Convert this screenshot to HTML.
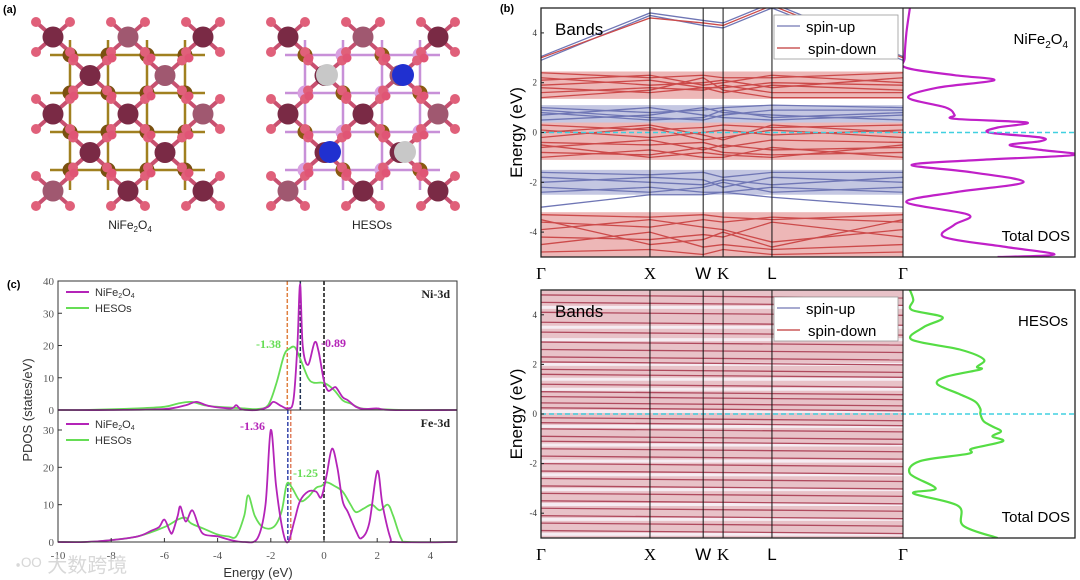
<!DOCTYPE html>
<html><head><meta charset="utf-8"><style>
html,body{margin:0;padding:0;background:#fff;}
svg{display:block;font-family:"Liberation Sans",sans-serif;}
</style></head><body>
<svg id="fig" width="1080" height="580" viewBox="0 0 1080 580" xmlns="http://www.w3.org/2000/svg">
<g id="pa"></g>
<g id="pb"></g>
<g id="pc"></g>
</svg>
<script>
// ---------- Data ----------
const kLabels = ["Γ","X","W","K","L","Γ"];
const kFrac = [0, 0.301, 0.448, 0.503, 0.638, 1];
const energyTicks = [4,2,0,-2,-4];
const nfSpinDown = [
 [2.4,2.2,2.3,2.2,2.2,2.4],[2.2,1.9,2.0,2.1,1.8,2.2],[1.9,2.1,1.8,1.8,2.0,1.9],[1.6,1.8,1.7,1.9,1.6,1.6],
 [1.4,1.7,2.2,1.7,1.4,1.4],[2.1,2.3,1.9,2.0,2.3,2.0],[1.8,1.6,1.8,1.6,1.9,1.7],
 [0.3,0.1,0.2,0.3,0.2,0.3],[0.1,-0.2,0.0,0.1,-0.1,0.1],[-0.2,0.2,-0.3,-0.2,0.1,-0.2],[-0.4,-0.5,-0.4,-0.6,-0.3,-0.4],
 [-0.6,-0.3,-0.7,-0.5,-0.7,-0.6],[-0.8,-0.9,-0.6,-0.8,-0.9,-0.8],[-1.0,-0.7,-1.0,-1.0,-0.6,-1.0],[0.0,0.3,-0.1,-0.3,0.3,0.0],[-0.5,-1.0,-0.8,-0.9,-1.0,-0.5],
 [-3.3,-3.4,-3.3,-3.4,-3.5,-3.3],[-3.6,-3.8,-3.5,-3.6,-3.4,-3.6],[-3.9,-3.5,-3.8,-3.9,-4.4,-3.9],[-4.2,-4.3,-4.1,-4.2,-3.6,-4.2],
 [-4.5,-4.0,-4.6,-4.5,-4.7,-4.5],[-4.8,-4.7,-4.9,-4.7,-4.9,-4.8],[-3.5,-4.5,-4.3,-4.0,-4.6,-3.5],
 [3.0,4.6,4.4,4.3,5.1,3.0]
];
const nfSpinUp = [
 [1.0,0.8,0.9,1.0,1.1,1.0],[0.9,0.6,0.5,0.7,0.9,0.9],[0.7,1.0,0.7,0.6,0.5,0.7],[0.5,0.7,1.0,0.8,0.7,0.5],[0.8,0.5,0.6,0.9,0.6,0.8],
 [-1.6,-1.7,-1.6,-1.8,-1.6,-1.6],[-1.8,-2.0,-2.1,-1.9,-2.1,-1.8],[-2.0,-1.8,-1.9,-2.2,-1.8,-2.0],[-2.2,-2.4,-2.2,-2.0,-2.4,-2.2],
 [-2.4,-2.2,-2.4,-2.4,-2.2,-2.4],[-3.0,-2.5,-2.5,-2.4,-2.6,-3.0],
 [2.9,4.7,4.3,4.2,5.0,2.9],[3.05,4.8,4.5,4.4,5.2,3.05]
];
const nfDownBands = [[1.35,2.45],[-1.1,0.4],[-5,-3.2]];
const nfUpBands = [[0.4,1.1],[-2.5,-1.5]];
const heLevelsDown = [4.8,4.5,4.1,3.7,3.3,2.9,2.6,2.3,2.1,1.8,1.6,1.2,0.9,0.7,0.45,0.25,-0.15,-0.35,-0.6,-0.9,-1.1,-1.4,-1.7,-2.0,-2.3,-2.6,-2.9,-3.2,-3.5,-3.8,-4.1,-4.4,-4.7];
const heLevelsUp = [4.3,3.5,3.0,2.0,1.4,1.0,0.1,-0.5,-1.25,-1.9,-2.45,-3.05,-3.65,-4.25,-4.85];
const nfDosE = [5,4,3,2.6,2.3,2.1,1.8,1.4,1.0,0.7,0.55,0.4,0.2,0,-0.2,-0.35,-0.5,-0.7,-0.9,-1.1,-1.3,-1.6,-2.0,-2.4,-2.8,-3.3,-3.7,-4.2,-4.6,-4.9,-5];
const nfDosV = [4,2,1,2,30,53,20,3,25,30,30,72,55,50,80,80,62,80,100,45,5,40,70,30,2,38,30,24,60,88,55];
const heDosE = [5,4.6,4.2,3.9,3.5,3.0,2.6,2.2,1.9,1.8,1.5,1.2,0.8,0.5,0.2,0,-0.3,-0.5,-0.7,-0.9,-1.1,-1.4,-1.6,-1.9,-2.4,-3.0,-3.2,-3.7,-4.5,-5];
const heDosV = [4,6,5,23,12,5,33,47,43,45,25,20,33,42,45,45,47,52,57,52,58,40,38,10,4,19,6,32,35,55];
const pdosE_NiNF = [-10,-8,-6,-5.2,-4.8,-4.3,-3.5,-3.3,-3.1,-2.5,-2.1,-1.9,-1.6,-1.35,-1.15,-1.0,-0.9,-0.8,-0.6,-0.35,-0.2,0,0.15,0.3,0.45,0.7,0.9,1.2,1.5,2,2.5,5];
const pdosV_NiNF = [0,0,0.3,1.5,2.5,1.2,0.5,1.5,0.2,0,1,2.5,1.2,0.5,3,20,39,20,14,21,18,9,6,6.5,7,4,3,1,0.3,0.5,0,0];
const pdosE_NiHE = [-10,-9,-7,-6,-5.5,-5,-4.5,-4,-3,-2.5,-2.1,-1.8,-1.5,-1.3,-1.1,-0.9,-0.6,-0.4,-0.1,0.1,0.4,0.7,1.0,1.4,2,3,5];
const pdosV_NiHE = [0,0,0.5,1,2,2.5,1.5,1,0.5,0.3,1.5,8,17,19,19.5,16,10,8.5,8.5,8,6,3,2,0.5,0.3,0,0];
const pdosE_FeNF = [-10,-9,-8,-7,-6.5,-6.2,-6.0,-5.8,-5.7,-5.5,-5.4,-5.2,-4.95,-4.7,-4.5,-4,-3.5,-3,-2.5,-2.2,-2.0,-1.8,-1.55,-1.35,-1.1,-0.9,-0.6,-0.3,-0.1,0.1,0.3,0.5,0.7,0.9,1.2,1.4,1.7,2.0,2.2,2.5,2.7,5];
const pdosV_FeNF = [0,0,0.5,1.5,3,4,6,3,2.5,7,9.5,5.5,8.5,4,2,1.5,0.5,0,1,10,30,15,3,0,6,11,13.5,13.5,12,18,25,20,11,8,3,1,5,19,10,1,0,0];
const pdosE_FeHE = [-10,-9,-8,-7,-6,-5.5,-5.2,-5,-4.5,-4,-3.6,-3.3,-3.0,-2.85,-2.6,-2.3,-1.9,-1.6,-1.4,-1.2,-0.9,-0.6,-0.3,-0.1,0.1,0.4,0.7,1.0,1.2,1.5,1.8,2.1,2.4,2.6,2.9,3.2,5];
const pdosV_FeHE = [0,0,0.5,1.5,4,6,6.5,5,3.5,2,1.5,1.5,7,12.5,7,4,4,8,15.5,14.5,11,12,14.5,15,16,15,13.5,10,8,9,10,8.5,10,7,1,0,0];
const pdosXTicks = [-10,-8,-6,-4,-2,0,2,4];
const pdosYTicksTop = [0,10,20,30,40];
const pdosYTicksBot = [0,10,20,30];
const niMarkers = [-1.38,-0.89,0];
const feMarkers = [-1.36,-1.25,0];

const NS="http://www.w3.org/2000/svg";
function mk(parent,tag,attrs,text){const e=document.createElementNS(NS,tag);for(const k in attrs)e.setAttribute(k,attrs[k]);if(text!==undefined)e.textContent=text;parent.appendChild(e);return e;}
function smooth(pts){
  let d="M"+pts[0][0].toFixed(1)+","+pts[0][1].toFixed(1);
  for(let i=0;i<pts.length-1;i++){const p0=pts[Math.max(0,i-1)],p1=pts[i],p2=pts[i+1],p3=pts[Math.min(pts.length-1,i+2)];
    const c1=[p1[0]+(p2[0]-p0[0])/6,p1[1]+(p2[1]-p0[1])/6],c2=[p2[0]-(p3[0]-p1[0])/6,p2[1]-(p3[1]-p1[1])/6];
    d+=`C${c1[0].toFixed(1)},${c1[1].toFixed(1)} ${c2[0].toFixed(1)},${c2[1].toFixed(1)} ${p2[0].toFixed(1)},${p2[1].toFixed(1)}`;}
  return d;}

// ---------- Panel a ----------
const pa=document.getElementById('pa');
let t=mk(pa,'text',{x:3,y:13,'font-size':11,'font-weight':'bold'},'(a)');


function structure(ox,he){
  const g=mk(pa,'g',{});
  
  
  const gx=[70,108,147,185].map(v=>v+ox), gy=[55,93,132,170];
  gx.forEach(x=>mk(g,'line',{x1:x,y1:40,x2:x,y2:190,stroke:he?'#c890d8':'#a08020','stroke-width':2.5}));
  gy.forEach(y=>mk(g,'line',{x1:50,y1:y,x2:205,y2:y,stroke:he?'#c890d8':'#a08020','stroke-width':2.5,transform:`translate(${ox},0)`}));
  const tet=[];
  for(let r=0;r<5;r++)for(let c=0;c<3;c++){
    if(r%2===0) tet.push([53+c*75+ox,37+r*38.5]); else if(c<2) tet.push([90+c*75+ox,37+r*38.5]);
  }
  tet.forEach(([x,y])=>{[[-17,-15],[17,-15],[-17,15],[17,15]].forEach(([dx,dy])=>{mk(g,'line',{x1:x,y1:y,x2:x+dx,y2:y+dy,stroke:'#c85070','stroke-width':4});});});
  gx.forEach((x,i)=>gy.forEach((y,j)=>{mk(g,'circle',{cx:x,cy:y,r:7.5,fill:he?((i+j)%2?'#d8a0e0':'#8a5a10'):'#7a5010'});}));
  tet.forEach(([x,y],i)=>{mk(g,'circle',{cx:x,cy:y,r:10.5,fill:(i%3===1)?'#a05870':'#7a2a45'});
    [[-17,-15],[17,-15],[-17,15],[17,15]].forEach(([dx,dy])=>mk(g,'circle',{cx:x+dx,cy:y+dy,r:5,fill:'#e0607a'}));});
  gx.forEach(x=>gy.forEach(y=>{mk(g,'circle',{cx:x+4,cy:y+3,r:4.5,fill:'#e05575'});}));
  if(he){[[327,75,'#c8c8c8'],[403,75,'#2030d0'],[330,152,'#2030d0'],[405,152,'#c8c8c8']].forEach(([x,y,c])=>mk(g,'circle',{cx:x,cy:y,r:11,fill:c}));}
}
structure(0,false);structure(235,true);
t=mk(pa,'text',{x:130,y:229,'font-size':12,'text-anchor':'middle',fill:'#222'});
t.innerHTML='NiFe<tspan font-size="8" dy="3">2</tspan><tspan dy="-3">O</tspan><tspan font-size="8" dy="3">4</tspan>';


t=mk(pa,'text',{x:372,y:229,'font-size':12,'text-anchor':'middle',fill:'#222'},'HESOs');



// ---------- Panel b ----------
const pb=document.getElementById('pb');
t=mk(pb,'text',{x:500,y:12,'font-size':11,'font-weight':'bold'},'(b)');


const bx0=541,bx1=903,dx1=1075;
const kx=f=>bx0+f*(bx1-bx0);
function bandPanel(top,y0,y1,isHE,idp){
  const ey=e=>y0+(5-e)/10*(y1-y0);
  const g=mk(pb,'g',{});
  
  
  const cp=mk(g,'clipPath',{id:'clip'+idp});mk(cp,'rect',{x:bx0,y:y0,width:bx1-bx0,height:y1-y0});
  const inner=mk(g,'g',{'clip-path':`url(#clip${idp})`});
  if(!isHE){
    nfDownBands.forEach(b=>mk(inner,'rect',{x:bx0,y:ey(b[1]),width:bx1-bx0,height:ey(b[0])-ey(b[1]),fill:'rgba(215,95,95,0.45)'}));
    nfUpBands.forEach(b=>mk(inner,'rect',{x:bx0,y:ey(b[1]),width:bx1-bx0,height:ey(b[0])-ey(b[1]),fill:'rgba(125,130,190,0.45)'}));
    const draw=(arr,col,nm)=>arr.forEach(b=>{const p=mk(inner,'polyline',{points:b.map((e,i)=>kx(kFrac[i])+','+ey(e)).join(' '),fill:'none',stroke:col,'stroke-width':1.3});
      
      });
    draw(nfSpinUp,'#6f76b5','spin-up-band');draw(nfSpinDown,'#cc4a4a','spin-down-band');
  } else {
    mk(inner,'rect',{x:bx0,y:y0,width:bx1-bx0,height:y1-y0,fill:'rgba(200,110,125,0.42)'});
    heLevelsUp.forEach(e=>{const l=mk(inner,'line',{x1:bx0,x2:bx1,y1:ey(e),y2:ey(e),stroke:'#f6ecf2','stroke-width':3});
      });
    heLevelsDown.forEach(e=>{const l=mk(inner,'line',{x1:bx0,x2:bx1,y1:ey(e),y2:ey(e)+3,stroke:'#b04a5e','stroke-width':1.3});
      });
  }
  const dE=isHE?heDosE:nfDosE,dV=isHE?heDosV:nfDosV;
  const cp2=mk(g,'clipPath',{id:'clipd'+idp});mk(cp2,'rect',{x:bx1,y:y0,width:dx1-bx1,height:y1-y0});
  const p=mk(g,'path',{d:smooth(dE.map((e,i)=>[bx1+dV[i]*1.72,ey(e)])),fill:'none',stroke:isHE?'#55dd44':'#c020c8','stroke-width':2.2,'clip-path':`url(#clipd${idp})`});
  
  
  mk(g,'line',{x1:bx0,x2:dx1,y1:ey(0),y2:ey(0),stroke:'#40d0e0','stroke-width':1.5,'stroke-dasharray':'5 3'});
  kFrac.forEach((f,i)=>{mk(g,'line',{x1:kx(f),x2:kx(f),y1:y0,y2:y1,stroke:'#111','stroke-width':1});
    const tl=mk(g,'text',{x:kx(f),y:y1+22,'font-size':17,'text-anchor':'middle','font-family':(kLabels[i]==='W'||kLabels[i]==='L')?'Liberation Sans':'Liberation Serif'},kLabels[i]);
    });
  mk(g,'rect',{x:bx0,y:y0,width:dx1-bx0,height:y1-y0,fill:'none',stroke:'#222','stroke-width':1.3});
  energyTicks.forEach(e=>{mk(g,'line',{x1:bx0,x2:bx0+3,y1:ey(e),y2:ey(e),stroke:'#222'});
    const tl=mk(g,'text',{x:bx0-4,y:ey(e)+3,'font-size':9,'text-anchor':'end','font-family':'Liberation Serif',fill:'#333'},String(e));
    });
  const yl=mk(g,'text',{x:0,y:0,'font-size':17,'text-anchor':'middle',transform:`translate(522,${(y0+y1)/2}) rotate(-90)`},'Energy (eV)');
  
  const bt=mk(g,'text',{x:555,y:y0+27,'font-size':17},'Bands');
  
  const lg=mk(g,'g',{});
  
  mk(lg,'rect',{x:774,y:y0+7,width:124,height:44,fill:'#fff',stroke:'#999','stroke-width':0.8});
  mk(lg,'line',{x1:777,x2:800,y1:y0+18,y2:y0+18,stroke:'#8a8ec0','stroke-width':1.5});
  mk(lg,'text',{x:806,y:y0+24,'font-size':15},'spin-up');
  mk(lg,'line',{x1:777,x2:800,y1:y0+40,y2:y0+40,stroke:'#cc5a5a','stroke-width':1.5});
  mk(lg,'text',{x:808,y:y0+46,'font-size':15},'spin-down');
  let nt=mk(g,'text',{x:1068,y:y0+36,'font-size':15,'text-anchor':'end'});
  if(isHE) nt.textContent='HESOs'; else nt.innerHTML='NiFe<tspan font-size="10" dy="4">2</tspan><tspan dy="-4">O</tspan><tspan font-size="10" dy="4">4</tspan>';
  
  const td=mk(g,'text',{x:1070,y:y1-16,'font-size':15,'text-anchor':'end'},'Total DOS');
  
}
bandPanel(true,8,257,false,1);
bandPanel(false,290,538,true,2);

// ---------- Panel c ----------
const pc=document.getElementById('pc');
t=mk(pc,'text',{x:7,y:288,'font-size':11,'font-weight':'bold'},'(c)');


const cx0=58,cx1=457,xs=e=>cx0+(e+10)*(cx1-cx0)/15;
const topY=v=>410-v*(410-281)/40, botY=v=>542-v*(542-430)/30;
const MAG='#b424b8',GRN='#66dd55';
function curve(E,V,ys,col,nm){const p=mk(pc,'path',{d:smooth(E.map((e,i)=>[xs(e),ys(V[i])])),fill:'none',stroke:col,'stroke-width':1.8});
  }
function vmark(e,y0,y1,col,nm){const l=mk(pc,'line',{x1:xs(e),x2:xs(e),y1:y0,y2:y1,stroke:col,'stroke-width':1.5,'stroke-dasharray':'4 2'});
  }
vmark(niMarkers[0],281,410,'#e08040','ni-hesos-dband-center');
vmark(niMarkers[1],281,410,'#223355','ni-nife2o4-dband-center');
vmark(niMarkers[2],281,410,'#111','fermi-level-top');
vmark(feMarkers[0],410,542,'#3344aa','fe-nife2o4-dband-center');
vmark(feMarkers[1],410,542,'#e08060','fe-hesos-dband-center');
vmark(feMarkers[2],410,542,'#111','fermi-level-bottom');
curve(pdosE_NiHE,pdosV_NiHE,topY,GRN,'ni-hesos-curve');
curve(pdosE_NiNF,pdosV_NiNF,topY,MAG,'ni-nife2o4-curve');
curve(pdosE_FeHE,pdosV_FeHE,botY,GRN,'fe-hesos-curve');
curve(pdosE_FeNF,pdosV_FeNF,botY,MAG,'fe-nife2o4-curve');
mk(pc,'rect',{x:cx0,y:281,width:cx1-cx0,height:261,fill:'none',stroke:'#333','stroke-width':1});
mk(pc,'line',{x1:cx0,x2:cx1,y1:410,y2:410,stroke:'#333','stroke-width':1});
pdosXTicks.forEach(e=>{mk(pc,'line',{x1:xs(e),x2:xs(e),y1:542,y2:538,stroke:'#333'});
  const tl=mk(pc,'text',{x:xs(e),y:559,'font-size':11,'text-anchor':'middle','font-family':'Liberation Serif',fill:'#555'},String(e));
  });
pdosYTicksTop.forEach(v=>{mk(pc,'line',{x1:cx0,x2:cx0+4,y1:topY(v),y2:topY(v),stroke:'#333'});
  const tl=mk(pc,'text',{x:cx0-4,y:topY(v)+4,'font-size':11,'text-anchor':'end','font-family':'Liberation Serif',fill:'#555'},String(v));
  });
pdosYTicksBot.forEach(v=>{mk(pc,'line',{x1:cx0,x2:cx0+4,y1:botY(v),y2:botY(v),stroke:'#333'});
  const tl=mk(pc,'text',{x:cx0-4,y:botY(v)+4,'font-size':11,'text-anchor':'end','font-family':'Liberation Serif',fill:'#555'},String(v));
  });
t=mk(pc,'text',{x:258,y:577,'font-size':13,'text-anchor':'middle',fill:'#333'},'Energy (eV)');

t=mk(pc,'text',{x:0,y:0,'font-size':13,'text-anchor':'middle',fill:'#333',transform:'translate(32,410) rotate(-90)'},'PDOS (states/eV)');

function legend(y){const g=mk(pc,'g',{});
  
  mk(g,'line',{x1:66,x2:89,y1:y,y2:y,stroke:MAG,'stroke-width':2});
  const a=mk(g,'text',{x:95,y:y+4,'font-size':11,fill:'#333'});a.innerHTML='NiFe<tspan font-size="7" dy="2">2</tspan><tspan dy="-2">O</tspan><tspan font-size="7" dy="2">4</tspan>';
  mk(g,'line',{x1:66,x2:89,y1:y+16,y2:y+16,stroke:GRN,'stroke-width':2});
  mk(g,'text',{x:95,y:y+20,'font-size':11,fill:'#333'},'HESOs');}
legend(292);legend(424);
function lab(x,y,s,col,anchor,nm){const e=mk(pc,'text',{x:x,y:y,'font-size':12,'font-weight':'bold','font-family':'Liberation Serif',fill:col,'text-anchor':anchor},s);
  }
lab(450,298,'Ni-3d','#222','end','ni-3d-label');
lab(450,427,'Fe-3d','#222','end','fe-3d-label');
lab(281,348,'-1.38',GRN,'end','ni-hesos-value');
lab(321,347,'-0.89',MAG,'start','ni-nife2o4-value');
lab(265,430,'-1.36',MAG,'end','fe-nife2o4-value');
lab(293,477,'-1.25',GRN,'start','fe-hesos-value');
t=mk(pc,'text',{x:15,y:572,'font-size':20,fill:'rgba(200,200,200,0.7)','font-family':'Liberation Sans, Noto Sans CJK SC, sans-serif'},'ꞏᴼᴼ 大数跨境');

</script>
</body></html>
